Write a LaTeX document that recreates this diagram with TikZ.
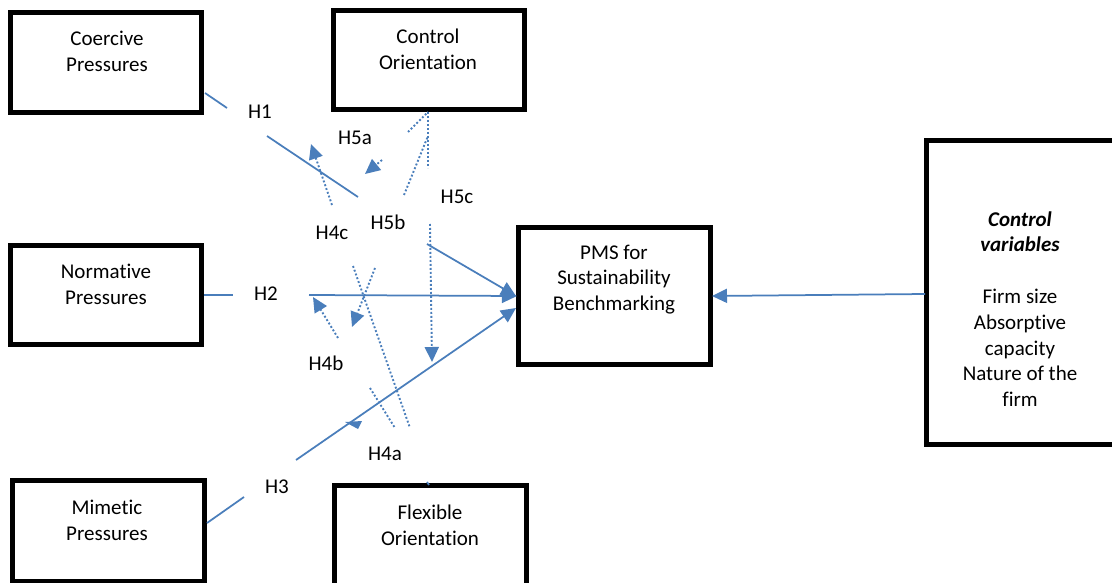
\documentclass[tikz,border=0pt]{standalone}
\usepackage{fontspec}
\setmainfont{Carlito}[Ligatures={NoCommon}]
\usetikzlibrary{arrows.meta}
\definecolor{lnblue}{RGB}{74,126,187}
\begin{document}
\begin{tikzpicture}[x=1pt,y=-1pt,
  box/.style={draw=black,line width=5pt,inner sep=0pt,rectangle},
  txt/.style={font=\fontsize{21}{25.8}\selectfont,align=center,inner sep=0pt},
  lbl/.style={font=\fontsize{21}{25.8}\selectfont,inner sep=0pt},
  conn/.style={draw=lnblue,line width=1.75pt},
  dconn/.style={draw=lnblue,line width=1.9pt,dash pattern=on 1.9pt off 2.1pt},
  tip/.style={-{Triangle[length=15pt,width=14pt]}},
]
\useasboundingbox (0,0) rectangle (1112,583);
\clip (0,0) rectangle (1112,583);

% boxes
\node[box,minimum width=191pt,minimum height=100pt] (coer) at (106,62.5) {};
\node[box,minimum width=191pt,minimum height=99pt] (ctrl) at (428.5,60) {};
\node[box,minimum width=191pt,minimum height=99pt] (norm) at (106,295) {};
\node[box,minimum width=192pt,minimum height=136.5pt] (pms) at (614.5,295.75) {};
\node[box,minimum width=200pt,minimum height=304pt] (cv) at (1026.5,292.5) {};
\node[box,minimum width=192pt,minimum height=100.5pt] (mim) at (108.5,530.75) {};
\node[box,minimum width=191.5pt,minimum height=115pt] (flex) at (430.25,542.5) {};

% box texts
\node[txt] (coer-t) at (107,51) {Coercive\\Pressures};
\node[txt] (ctrl-t) at (428,49) {Control\\Orientation};
\node[txt] (norm-t) at (106,284) {Normative\\Pressures};
\node[txt] (pms-t) at (614,279.5) {PMS for\\Sustainability\\Benchmarking};
\node[txt] (cv-t) at (1020,309) {\textbf{\textit{Control}}\\\textbf{\textit{variables}}\\[25.8pt]Firm size\\Absorptive\\capacity\\Nature of the\\firm};
\node[txt] (mim-t) at (107,520.5) {Mimetic\\Pressures};
\node[txt] (flex-t) at (430,525) {Flexible\\Orientation};

% labels
\node[lbl] (H1) at (260,112) {H1};
\node[lbl] (H5a) at (355,138) {H5a};
\node[lbl] (H5c) at (457,197) {H5c};
\node[lbl] (H4c) at (332,233) {H4c};
\node[lbl] (H5b) at (388,222) {H5b};
\node[lbl] (H2) at (266,294) {H2};
\node[lbl] (H4b) at (326,363) {H4b};
\node[lbl] (H4a) at (385,454) {H4a};
\node[lbl] (H3) at (277,487) {H3};

% coordinates of connector ends
\coordinate (c1a) at (205,93);   \coordinate (c1b) at (227,108);
\coordinate (h1a) at (267,136);  \coordinate (h1b) at (358,197);
\coordinate (n1a) at (204,295);  \coordinate (n1b) at (233,295);
\coordinate (h2a) at (309,295);  \coordinate (h2b) at (517,296);
\coordinate (d5a) at (427,244);  \coordinate (d5b) at (516,296);
\coordinate (m1a) at (207,523);  \coordinate (m1b) at (244,497);
\coordinate (h3a) at (296,460);  \coordinate (h3b) at (516,308);
\coordinate (cva) at (925,294);  \coordinate (cvb) at (712,296);

\coordinate (h4ca) at (332,205); \coordinate (h4cb) at (311,144);
\coordinate (h5aa) at (382,160); \coordinate (h5ab) at (365,174);
\coordinate (h5ba) at (404,195); \coordinate (h5bb) at (428,136);
\coordinate (v1a) at (428,112);  \coordinate (v1b) at (428,168);
\coordinate (s1a) at (408,132);
\coordinate (h5ca) at (430,224); \coordinate (h5cb) at (432,362);
\coordinate (xa1) at (353,266);  \coordinate (xa2) at (410,428);
\coordinate (xb1) at (375,268);  \coordinate (xb2) at (352,327);
\coordinate (h4ba) at (338,338); \coordinate (h4bb) at (313,297);
\coordinate (h4aa) at (370,388); \coordinate (h4ab) at (395,428);
\coordinate (t1) at (345,422);   \coordinate (t2) at (362,421); \coordinate (t3) at (358,429);
\coordinate (k1) at (427,482);   \coordinate (k2) at (429,485);

% solid connectors
\draw[conn] (c1a) -- (c1b);
\draw[conn] (h1a) -- (h1b);
\draw[conn] (n1a) -- (n1b);
\draw[conn,tip] (h2a) -- (h2b);
\draw[conn,tip] (d5a) -- (d5b);
\draw[conn] (m1a) -- (m1b);
\draw[conn,tip] (h3a) -- (h3b);
\draw[conn,tip] (cva) -- (cvb);

% dotted connectors
\draw[dconn,tip] (h4ca) -- (h4cb);
\draw[dconn,tip] (h5aa) -- (h5ab);
\draw[dconn] (h5ba) -- (h5bb);
\draw[dconn] (v1a) -- (v1b);
\draw[dconn] (s1a) -- (v1a);
\draw[dconn,tip] (h5ca) -- (h5cb);
\draw[dconn] (xa1) -- (xa2);
\draw[dconn,tip] (xb1) -- (xb2);
\draw[dconn,tip] (h4ba) -- (h4bb);
\draw[dconn] (h4aa) -- (h4ab);
\fill[lnblue] (t1) -- (t2) -- (t3) -- cycle;
\draw[conn] (k1) -- (k2);
\end{tikzpicture}
\end{document}
